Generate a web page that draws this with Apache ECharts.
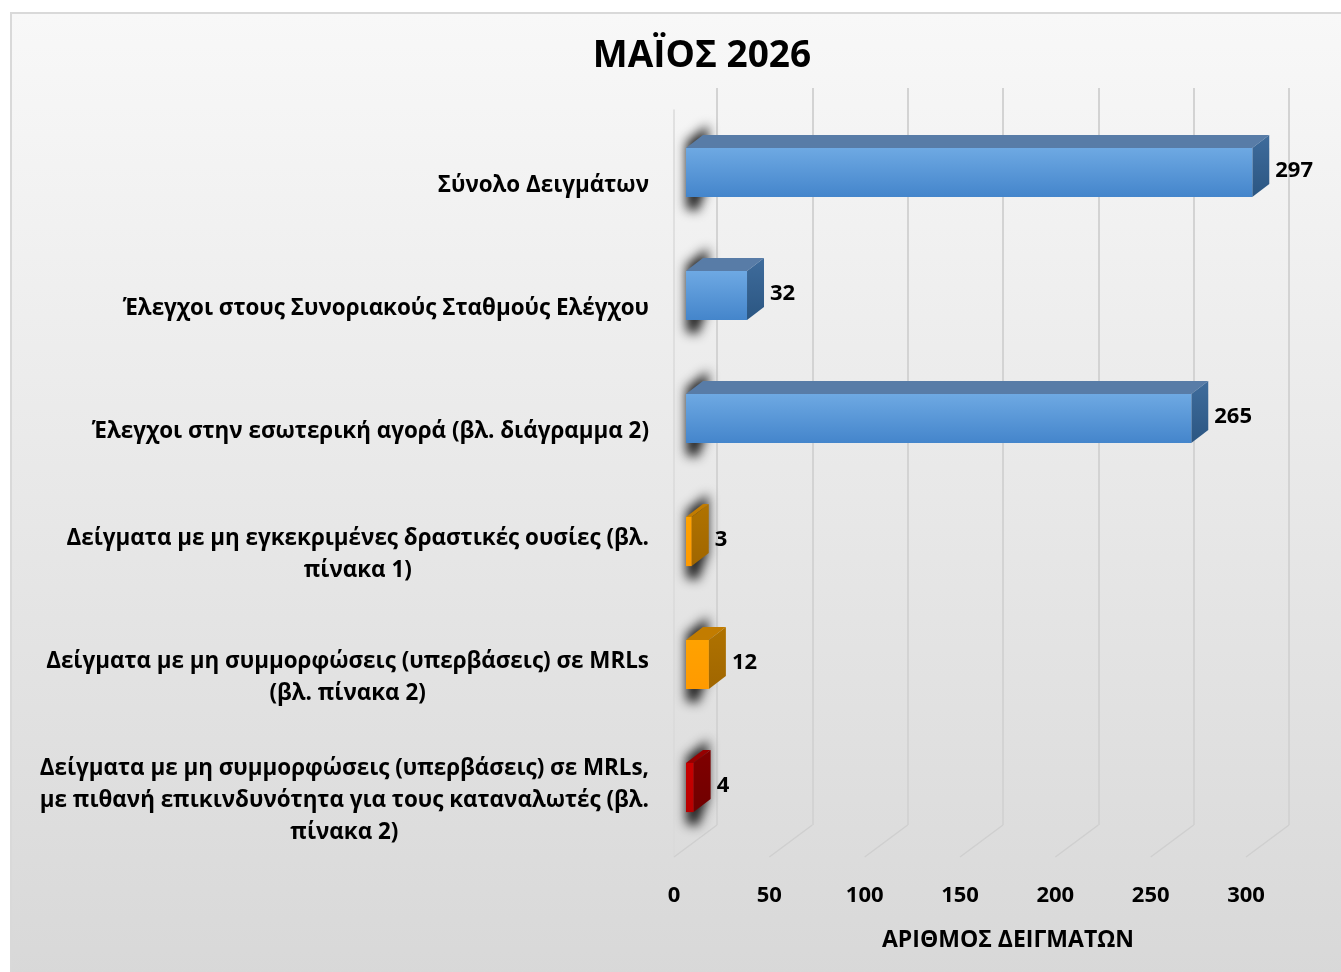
<!DOCTYPE html>
<html>
<head>
<meta charset="utf-8">
<script src="https://cdn.jsdelivr.net/npm/echarts@6/dist/echarts.min.js"></script>
<style>
  html, body { margin: 0; padding: 0; background: #ffffff; }
  #frame {
    position: absolute; left: 10px; top: 12px; width: 1340px; height: 970px;
    border: 2px solid #d9d9d9; box-sizing: border-box;
    background: linear-gradient(#f8f8f8, #d8d8d8);
  }
  #main { position: absolute; left: 0; top: 0; width: 1341px; height: 972px; }
</style>
</head>
<body>
<div id="frame"></div>
<div id="main"></div>
<script>
var chartTitle = "ΜΑΪΟΣ 2026";
var axisTitle = "ΑΡΙΘΜΟΣ ΔΕΙΓΜΑΤΩΝ";

// κατηγορίες (από πάνω προς τα κάτω)
var categories = [
    "Σύνολο Δειγμάτων",
    "Έλεγχοι στους Συνοριακούς Σταθμούς Ελέγχου",
    "Έλεγχοι στην εσωτερική αγορά (βλ. διάγραμμα 2)",
    "Δείγματα με μη εγκεκριμένες δραστικές ουσίες (βλ.\nπίνακα 1)",
    "Δείγματα με μη συμμορφώσεις (υπερβάσεις) σε MRLs\n(βλ. πίνακα 2)",
    "Δείγματα με μη συμμορφώσεις (υπερβάσεις) σε MRLs,\nμε πιθανή επικινδυνότητα για τους καταναλωτές (βλ.\nπίνακα 2)"
];
var values = [297, 32, 265, 3, 12, 4];
var xTicks = [0, 50, 100, 150, 200, 250, 300];

// χρώματα ανά μπάρα: μπροστά (πάνω/κάτω), πάνω πλευρά, δεξιά πλευρά
var blue = { front: ["#6ea9e3", "#4485cb"], top: "#587ca7", side: ["#3f6c9c", "#2b5682"] };
var orange = { front: ["#ffa200", "#ff9a00"], top: "#c27c00", side: ["#b07300", "#a06600"] };
var red = { front: ["#c80000", "#b80000"], top: "#960000", side: ["#800000", "#700000"] };
var barStyles = [blue, blue, blue, orange, orange, red];

var depthX = 17, depthY = -13;
var shadowShift = 3000;  // το σχήμα της σκιάς ζωγραφίζεται εκτός οθόνης, μόνο η θολή σκιά φαίνεται
var labelFont = "'Open Sans', 'Noto Sans', sans-serif";
var narrowFont = "'Liberation Sans Narrow', 'Open Sans', sans-serif";

function grad(c) {
    return new echarts.graphic.LinearGradient(0, 0, 0, 1, [
        { offset: 0, color: c[0] }, { offset: 1, color: c[1] }
    ]);
}

function renderBar(params, api) {
    var idx = api.value(0);
    var v = api.value(1);
    var st = barStyles[params.dataIndex];
    var start = api.coord([0, idx]);
    var end = api.coord([v, idx]);
    var h = api.size([0, 1])[1] * 0.4;
    var x0 = start[0], x1 = end[0], yc = end[1];
    var yTop = yc - h / 2, yBot = yc + h / 2;
    var s = shadowShift;
    return {
        type: 'group',
        children: [
            {
                // σκιά στον αριστερό τοίχο
                type: 'polygon',
                shape: { points: [[x0 - s, yTop - 6], [x0 + depthX + 5 - s, yTop + depthY - 10], [x0 + depthX + 5 - s, yBot + depthY], [x0 + 12 - s, yBot + 14], [x0 - s, yBot + 12]] },
                style: { fill: '#000', shadowBlur: 11, shadowOffsetX: s, shadowColor: 'rgba(0,0,0,0.85)' }
            },
            {
                type: 'polygon',
                shape: { points: [[x0, yTop], [x0 + depthX, yTop + depthY], [x1 + depthX, yTop + depthY], [x1, yTop]] },
                style: { fill: st.top }
            },
            {
                type: 'polygon',
                shape: { points: [[x1, yTop], [x1 + depthX, yTop + depthY], [x1 + depthX, yBot + depthY], [x1, yBot]] },
                style: { fill: grad(st.side) }
            },
            {
                type: 'rect',
                shape: { x: x0, y: yTop, width: x1 - x0, height: h },
                style: { fill: grad(st.front) }
            },
            {
                type: 'text',
                x: x1 + depthX + 6, y: yc - 2,
                style: {
                    text: String(v), fill: '#000', font: 'bold 22px ' + labelFont,
                    align: 'left', verticalAlign: 'middle'
                }
            }
        ]
    };
}

function renderFloor(params, api) {
    var p = api.coord([api.value(0), 0]);
    return {
        type: 'line',
        shape: { x1: p[0], y1: p[1], x2: p[0] - 43, y2: p[1] + 32 },
        style: { stroke: '#cfcfcf', lineWidth: 1.5 }
    };
}

var chart = echarts.init(document.getElementById('main'));
chart.setOption({
    backgroundColor: 'transparent',
    animation: false,
    title: {
        text: chartTitle,
        left: 697, top: 33, textAlign: 'center',
        textStyle: { fontSize: 37, fontWeight: 'bold', color: '#000', fontFamily: labelFont }
    },
    grid: [
        // πλάτη (γραμμές πλέγματος)
        { left: 717, width: 572, top: 88, height: 737 },
        // μπροστινό επίπεδο μπαρών
        { left: 686, width: 572, top: 111, height: 738 },
        // δάπεδο / ετικέτες άξονα
        { left: 674, width: 572, top: 110, height: 747 }
    ],
    xAxis: [
        {
            gridIndex: 0, type: 'value', min: 0, max: 300, interval: 50,
            axisLine: { show: false }, axisTick: { show: false }, axisLabel: { show: false },
            splitLine: { show: true, lineStyle: { color: '#d3d3d3', width: 2 } },
            name: axisTitle, nameLocation: 'middle', nameGap: 104,
            nameTextStyle: { fontSize: 23, fontWeight: 'bold', color: '#000', fontFamily: narrowFont, padding: [0, 0, 0, 10] }
        },
        {
            gridIndex: 1, type: 'value', min: 0, max: 300, interval: 50,
            axisLine: { show: false }, axisTick: { show: false }, axisLabel: { show: false },
            splitLine: { show: false }
        },
        {
            gridIndex: 2, type: 'value', min: 0, max: 300, interval: 50,
            axisLine: { show: false }, axisTick: { show: false }, splitLine: { show: false },
            axisLabel: {
                margin: 28, fontSize: 22, fontWeight: 'bold', color: '#000', fontFamily: narrowFont,
                formatter: function (v) { return xTicks.indexOf(v) >= 0 ? String(v) : ''; }
            }
        }
    ],
    yAxis: [
        { gridIndex: 0, type: 'value', min: 0, max: 1, show: false },
        {
            gridIndex: 1, type: 'category', data: categories, inverse: true,
            axisLine: { show: false }, axisTick: { show: false },
            axisLabel: {
                margin: 37, padding: [27, 0, 0, 0],
                formatter: function (s) {
                    return s.split('\n').map(function (l) { return '{c|' + l + '}'; }).join('\n');
                },
                rich: {
                    c: { align: 'center', fontSize: 22.4, fontWeight: 'bold', color: '#000', fontFamily: labelFont, lineHeight: 32 }
                }
            }
        },
        {
            gridIndex: 2, type: 'value', min: 0, max: 1, axisLabel: { show: false },
            axisTick: { show: false }, splitLine: { show: false },
            axisLine: { show: true, lineStyle: { color: '#dadada', width: 1.5 } }
        }
    ],
    series: [
        {
            type: 'custom', xAxisIndex: 0, yAxisIndex: 0,
            data: xTicks.map(function (t) { return [t]; }),
            renderItem: renderFloor, silent: true, z: 1
        },
        {
            type: 'custom', xAxisIndex: 1, yAxisIndex: 1,
            data: values.map(function (v, i) { return [i, v]; }),
            encode: { x: 1, y: 0 },
            renderItem: renderBar, z: 3
        }
    ]
});
</script>
</body>
</html>
